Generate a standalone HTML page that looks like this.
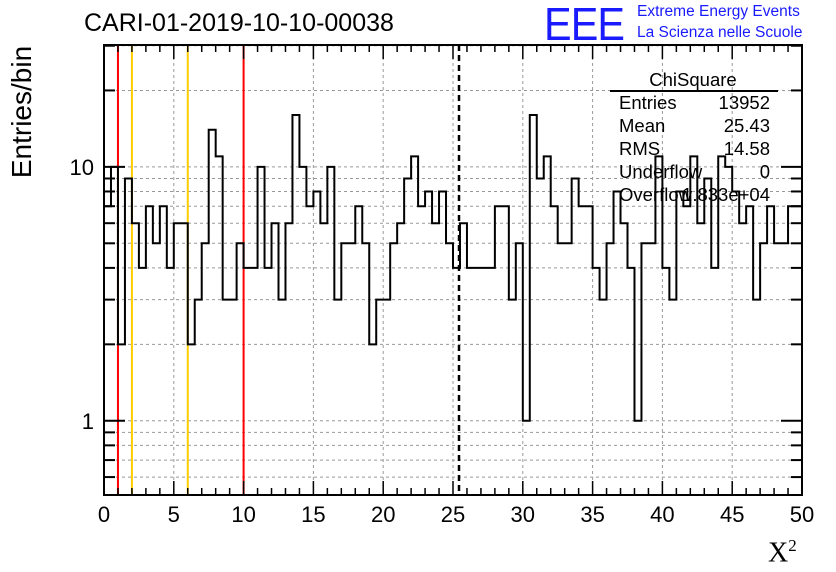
<!DOCTYPE html>
<html><head><meta charset="utf-8"><style>
body{margin:0;background:#fff;}
svg{display:block;font-family:"Liberation Sans",sans-serif;}
</style></head><body>
<svg id="chart" width="836" height="572" xmlns="http://www.w3.org/2000/svg"></svg>
<script>
const binCounts=[7,10,2,9,6,4,7,5,7,4,6,6,2,3,5,14,11,3,3,5,4,4,10,4,6,3,6,16,10,7,8,6,10,3,5,5,7,5,2,3,3,5,6,9,11,7,8,6,8,5,4,6,4,4,4,4,7,7,3,5,1,16,9,11,7,5,5,9,7,7,4,3,5,8,6,4,1,5,5,11,4,3,8,7,11,6,9,4,11,10,8,6,7,3,5,7,5,5,7,7];
const xTicks=[0,5,10,15,20,25,30,35,40,45,50];
const yMajor=[1,10];
const yMinor=[0.6,0.7,0.8,0.9,2,3,4,5,6,7,8,9,20,30];
const redCuts=[1,10];
const goldCuts=[2,6];
const meanVal=25.43;
const statLabels=["Entries","Mean","RMS","Underflow","Overflow"];
const statValues=["13952","25.43","14.58","0","1.833e+04"];

const L=104,R=802,T=45,B=495;
const xMin=0,xMax=50,yMin=0.51,yMax=30.2;
const sx=v=>L+(v-xMin)/(xMax-xMin)*(R-L);
const ly=Math.log10;
const sy=v=>B-(ly(v)-ly(yMin))/(ly(yMax)-ly(yMin))*(B-T);
const svg=document.getElementById('chart');
const NS="http://www.w3.org/2000/svg";
function mk(tag,attrs,parent){const e=document.createElementNS(NS,tag);for(const k in attrs)e.setAttribute(k,attrs[k]);(parent||svg).appendChild(e);return e;}

const grid=mk('g',{});


xTicks.slice(1,-1).forEach(t=>{const l=mk('line',{x1:sx(t),x2:sx(t),y1:T,y2:B,stroke:'#999','stroke-dasharray':'3,3','stroke-width':1},grid);

});
yMajor.concat(yMinor).forEach(t=>{const l=mk('line',{x1:L,x2:R,y1:sy(t),y2:sy(t),stroke:'#999','stroke-dasharray':'3,3','stroke-width':1},grid);

});

redCuts.forEach(c=>{const l=mk('line',{x1:sx(c),x2:sx(c),y1:T,y2:B,stroke:'#ff0000','stroke-width':2});

});
goldCuts.forEach(c=>{const l=mk('line',{x1:sx(c),x2:sx(c),y1:T,y2:B,stroke:'#ffcc00','stroke-width':2});

});
const ml=mk('line',{x1:sx(meanVal),x2:sx(meanVal),y1:T,y2:B,stroke:'#000','stroke-width':2.5,'stroke-dasharray':'6,4'});



const bw=(xMax-xMin)/binCounts.length;
let d='';
binCounts.forEach((v,i)=>{const x0=sx(xMin+i*bw),x1=sx(xMin+(i+1)*bw),y=sy(v);
d+=(i===0?'M':'L')+x0.toFixed(2)+','+y.toFixed(2)+'L'+x1.toFixed(2)+','+y.toFixed(2);});
const h=mk('path',{d:d,fill:'none',stroke:'#000','stroke-width':2});



const st=mk('g',{});


const stt=mk('text',{x:693,y:86,'font-size':18.5,'text-anchor':'middle'},st);stt.textContent='ChiSquare';


mk('line',{x1:610,x2:778,y1:91,y2:91,stroke:'#000','stroke-width':2},st);
statLabels.forEach((s,i)=>{const y=109+i*23;
const a=mk('text',{x:619,y:y,'font-size':18.5},st);a.textContent=s;


const b=mk('text',{x:770,y:y,'font-size':18.5,'text-anchor':'end'},st);b.textContent=statValues[i];

});

const fr=mk('rect',{x:L,y:T,width:R-L,height:B-T,fill:'none',stroke:'#000','stroke-width':2});



const xa=mk('g',{});


for(let v=xMin;v<=xMax+1e-9;v+=1){const big=v%5===0;const x=sx(v);
mk('line',{x1:x,x2:x,y1:B,y2:B-(big?14:7),stroke:'#000','stroke-width':1.5},xa);
mk('line',{x1:x,x2:x,y1:T,y2:T+(big?14:7),stroke:'#000','stroke-width':1.5},xa);}
xTicks.forEach(t=>{const tx=mk('text',{x:sx(t),y:522,'font-size':22,'text-anchor':'middle'},xa);tx.textContent=t;

});
const ya=mk('g',{});


yMajor.forEach(t=>{mk('line',{x1:L,x2:L+21,y1:sy(t),y2:sy(t),stroke:'#000','stroke-width':2},ya);
mk('line',{x1:R,x2:R-21,y1:sy(t),y2:sy(t),stroke:'#000','stroke-width':2},ya);
const tx=mk('text',{x:94,y:sy(t)+8,'font-size':22,'text-anchor':'end'},ya);tx.textContent=t;

});
yMinor.forEach(t=>{mk('line',{x1:L,x2:L+11,y1:sy(t),y2:sy(t),stroke:'#000','stroke-width':2},ya);
mk('line',{x1:R,x2:R-11,y1:sy(t),y2:sy(t),stroke:'#000','stroke-width':2},ya);});
</script>
<div style="position:absolute;left:0;top:0;width:836px;height:572px;pointer-events:none;font-family:'Liberation Sans',sans-serif;">
<div style="position:absolute;left:84px;top:9px;font-size:25px;">CARI-01-2019-10-10-00038</div>
<div style="position:absolute;left:544px;top:-3px;font-size:46px;color:#1a1aff;transform:scaleX(0.9);transform-origin:left top;letter-spacing:-1px;">EEE</div>
<div style="position:absolute;left:637px;top:3px;font-size:15.5px;color:#1a1aff;">Extreme Energy Events</div>
<div style="position:absolute;left:637px;top:24px;font-size:15.5px;color:#1a1aff;">La Scienza nelle Scuole</div>
<div style="position:absolute;left:22px;top:112px;font-size:28px;transform:translate(-50%,-50%) rotate(-90deg);white-space:nowrap;">Entries/bin</div>
<div style="position:absolute;left:768px;top:536px;font-size:28px;font-family:'Liberation Serif',serif;">X<sup style="font-size:17px;">2</sup></div>
</div>
</body></html>
